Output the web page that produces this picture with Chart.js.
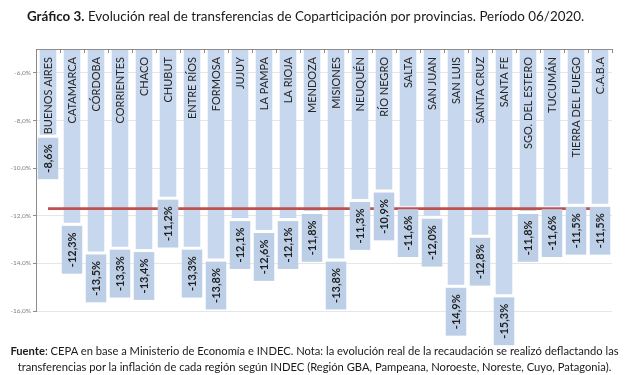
<!DOCTYPE html>
<html>
<head>
<meta charset="utf-8">
<script src="https://cdn.jsdelivr.net/npm/chart.js@4/dist/chart.umd.min.js"></script>
<style>
  html, body { margin:0; padding:0; background:#fff; }
  body { width:641px; height:375px; position:relative; overflow:hidden; font-family: Lato, "Open Sans", sans-serif; color:#1a1a1a; }
  #wrap { position:absolute; left:0; top:0; width:641px; height:375px; }
  #title { position:absolute; left:27px; top:8px; font-size:13.4px; white-space:nowrap; }
  #foot { position:absolute; left:-6px; width:641px; top:343px; font-size:11.2px; line-height:16px; text-align:center; white-space:nowrap; }
</style>
</head>
<body>
<div id="wrap"><canvas id="c" width="641" height="375"></canvas></div>
<div id="title"><b>Gráfico 3.</b> Evolución real de transferencias de Coparticipación por provincias. Período 06/2020.</div>
<div id="foot"><b>Fuente</b>: CEPA en base a Ministerio de Economía e INDEC. Nota: la evolución real de la recaudación se realizó deflactando las<br>transferencias por la inflación de cada región según INDEC (Región GBA, Pampeana, Noroeste, Noreste, Cuyo, Patagonia).</div>
<script>
const provincias = ["BUENOS AIRES","CATAMARCA","CÓRDOBA","CORRIENTES","CHACO","CHUBUT","ENTRE RÍOS","FORMOSA","JUJUY","LA PAMPA","LA RIOJA","MENDOZA","MISIONES","NEUQUÉN","RÍO NEGRO","SALTA","SAN JUAN","SAN LUIS","SANTA CRUZ","SANTA FE","SGO. DEL ESTERO","TUCUMÁN","TIERRA DEL FUEGO","C.A.B.A"];
const variacion = [-8.6,-12.3,-13.5,-13.3,-13.4,-11.2,-13.3,-13.8,-12.1,-12.6,-12.1,-11.8,-13.8,-11.3,-10.9,-11.6,-12.0,-14.9,-12.8,-15.3,-11.8,-11.6,-11.5,-11.5];
const promedio = -11.7;
const yTicks = [-16,-14,-12,-10,-8,-6];
const yMin = -16, yMax = -5;

const fmt = v => v.toFixed(1).replace('.', ',') + '%';

const labelsPlugin = {
  id: 'labelsPlugin',
  afterDatasetsDraw(chart) {
    const ctx = chart.ctx;
    const ys = chart.scales.y;
    const xs = chart.scales.x;
    const area = chart.chartArea;
    const meta = chart.getDatasetMeta(0);
    ctx.save();
    ctx.strokeStyle = '#8c8c8c';
    ctx.lineWidth = 1;
    ctx.beginPath();
    ctx.moveTo(area.left, Math.round(area.top) + 0.5);
    ctx.lineTo(area.right, Math.round(area.top) + 0.5);
    const half = (xs.getPixelForValue(1) - xs.getPixelForValue(0)) / 2;
    for (let i = 0; i <= provincias.length; i++) {
      const x = Math.round(xs.getPixelForValue(i) - half) + 0.5;
      ctx.moveTo(x, area.top);
      ctx.lineTo(x, area.top + 4);
    }
    ctx.stroke();

    meta.data.forEach((bar, i) => {
      const x = bar.x;
      const topPx = ys.getPixelForValue(yMax);
      const endPx = ys.getPixelForValue(variacion[i]);
      ctx.save();
      ctx.translate(x, topPx + 8);
      ctx.rotate(-Math.PI / 2);
      ctx.font = '11px Lato, "Open Sans", sans-serif';
      ctx.fillStyle = '#262626';
      ctx.textAlign = 'right';
      ctx.textBaseline = 'middle';
      ctx.fillText(provincias[i], 0, 0.5);
      ctx.restore();
      const txt = fmt(variacion[i]);
      ctx.font = 'bold 11px Lato, "Open Sans", sans-serif';
      const tw = ctx.measureText(txt).width;
      const bh = tw + 13;
      const bw = 20.5;
      const by = endPx + 3;
      ctx.fillStyle = '#bccfe7';
      ctx.fillRect(x - bw / 2, by, bw, bh);
      ctx.save();
      ctx.translate(x, by + bh / 2);
      ctx.rotate(-Math.PI / 2);
      ctx.fillStyle = '#1f1f1f';
      ctx.textAlign = 'center';
      ctx.textBaseline = 'middle';
      ctx.fillText(txt, 0, 0.5);
      ctx.restore();
    });
    ctx.restore();
  }
};

new Chart(document.getElementById('c'), {
  data: {
    labels: provincias,
    datasets: [
      {
        type: 'bar',
        data: variacion.map(v => [yMax, v]),
        backgroundColor: '#c6d7ee',
        borderWidth: 0,
        barPercentage: 0.69,
        categoryPercentage: 1.0,
        order: 2
      },
      {
        type: 'line',
        data: provincias.map(() => promedio),
        borderColor: '#c0504d',
        borderWidth: 2.7,
        pointRadius: 0,
        fill: false,
        order: 1
      }
    ]
  },
  options: {
    responsive: false,
    animation: false,
    devicePixelRatio: 1,
    layout: { padding: { top: 49, bottom: 64, right: 29, left: 0 } },
    plugins: { legend: { display: false }, tooltip: { enabled: false } },
    scales: {
      x: { display: false, offset: true },
      y: {
        min: yMin, max: yMax,
        afterBuildTicks: s => { s.ticks = yTicks.map(v => ({ value: v })); },
        afterFit: s => { s.width = 36; },
        ticks: {
          callback: v => fmt(v),
          font: { size: 6.5, family: 'Lato, "Open Sans", sans-serif' },
          color: '#7f7f7f',
          padding: 2
        },
        grid: { color: '#e6e6e6', tickLength: 3, tickColor: '#8c8c8c' },
        border: { display: true, color: '#8c8c8c', width: 1 }
      }
    }
  },
  plugins: [labelsPlugin]
});
</script>
</body>
</html>
